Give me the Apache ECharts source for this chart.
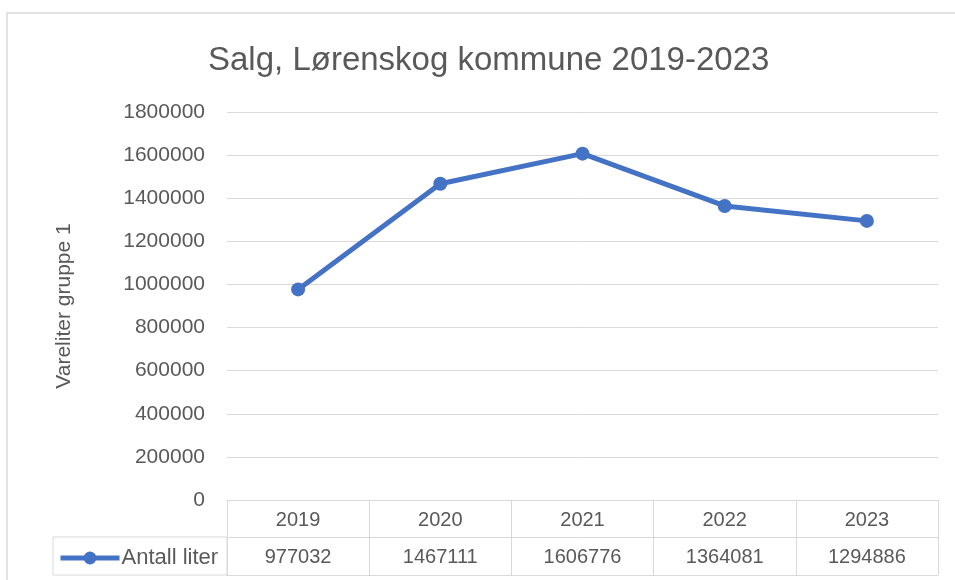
<!DOCTYPE html>
<html>
<head>
<meta charset="utf-8">
<script src="https://cdn.jsdelivr.net/npm/echarts@6/dist/echarts.min.js"></script>
<style>
    html, body {margin:0;padding:0;background:#fff;}
    #chart {width:955px;height:580px;}
</style>
</head>
<body>
<div id="chart"></div>
<script>
    var years = ['2019', '2020', '2021', '2022', '2023'];
    var antallLiter = [977032, 1467111, 1606776, 1364081, 1294886];
    var seriesName = 'Antall liter';
    var titleText = 'Salg, Lørenskog kommune 2019-2023';
    var yName = 'Vareliter gruppe 1';

    var font = "'Liberation Sans', Arial, sans-serif";
    var txt = '#595959';
    var gridCol = '#d9d9d9';

    var chart = echarts.init(document.getElementById('chart'));
    var option = {
        animation: false,
        textStyle: {fontFamily: font},
        title: {
            text: titleText,
            left: 203,
            top: 39,
            textStyle: {fontSize: 33, fontWeight: 'normal', color: txt, fontFamily: font}
        },
        legend: {
            left: 53,
            top: 542,
            itemWidth: 59,
            itemHeight: 16,
            itemGap: 0,
            data: [seriesName],
            lineStyle: {width: 5},
            textStyle: {fontSize: 22, color: txt, fontFamily: font, padding: [0, 0, 0, -3]}
        },
        grid: {left: 227, right: 17, top: 112, bottom: 80},
        xAxis: [{
            type: 'category',
            data: years,
            axisLine: {show: true, lineStyle: {color: gridCol, width: 1}},
            axisTick: {show: true, length: 37, alignWithLabel: false, lineStyle: {color: gridCol}},
            axisLabel: {fontSize: 20, color: txt, margin: 10, fontFamily: font}
        }, {
            type: 'category',
            position: 'bottom',
            offset: 37,
            data: antallLiter.map(String),
            axisLine: {show: true, lineStyle: {color: gridCol, width: 1}},
            axisTick: {show: true, length: 38, alignWithLabel: false, lineStyle: {color: gridCol}},
            axisLabel: {fontSize: 20, color: txt, margin: 10, fontFamily: font}
        }, {
            type: 'category',
            position: 'bottom',
            offset: 75,
            data: years,
            axisLine: {show: true, lineStyle: {color: gridCol, width: 1}},
            axisTick: {show: false},
            axisLabel: {show: false}
        }],
        yAxis: {
            type: 'value',
            min: 0,
            max: 1800000,
            interval: 200000,
            name: yName,
            nameLocation: 'middle',
            nameGap: 152,
            nameTextStyle: {fontSize: 21, color: txt, fontFamily: font},
            axisLine: {show: false},
            axisTick: {show: false},
            axisLabel: {fontSize: 21, color: txt, margin: 22, fontFamily: font,
                formatter: function (v) { return String(v); }},
            splitLine: {lineStyle: {color: gridCol, width: 1}}
        },
        graphic: [{
            type: 'rect',
            shape: {x: 7, y: 13, width: 980, height: 620},
            style: {fill: 'none', stroke: gridCol, lineWidth: 1.5},
            silent: true
        }, {
            type: 'rect',
            shape: {x: 53, y: 537, width: 174, height: 38},
            style: {fill: 'none', stroke: gridCol, lineWidth: 1},
            silent: true
        }],
        series: [{
            name: seriesName,
            type: 'line',
            data: antallLiter,
            symbol: 'circle',
            symbolSize: 14,
            itemStyle: {color: '#4472C4'},
            lineStyle: {color: '#4472C4', width: 5}
        }]
    };
    chart.setOption(option);
    window.onresize = function () {
        chart.resize();
    };
</script>
</body>
</html>
